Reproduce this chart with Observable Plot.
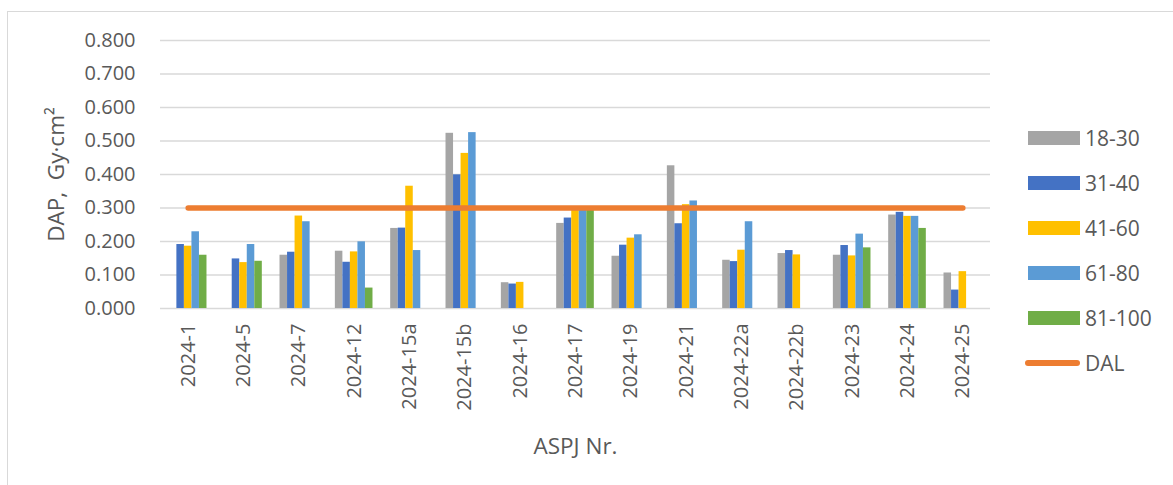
<!DOCTYPE html>
<html>
<head>
<meta charset="utf-8">
<script src="https://cdn.jsdelivr.net/npm/d3@7"></script>
<script src="https://cdn.jsdelivr.net/npm/@observablehq/plot@0.6"></script>
<style>
  html, body { margin: 0; padding: 0; background: #fff; }
  #wrap { position: relative; width: 1173px; height: 485px; overflow: hidden; font-family: "Open Sans", sans-serif; }
  #frame { position: absolute; left: 7px; top: 11px; width: 1200px; height: 500px; border-left: 1.5px solid #D9D9D9; border-top: 1.5px solid #D9D9D9; pointer-events: none; }
  #legend { position: absolute; left: 1025px; top: 115px; color: #595959; font-size: 21px; }
  .item { display: flex; align-items: center; height: 45px; }
  .sw { width: 52px; height: 14px; margin-right: 5px; margin-left: 3px; }
  .ln { width: 55px; height: 6px; border-radius: 3px; margin-right: 5px; }
  g[aria-label="x-axis label"] text, g[aria-label="y-axis label"] text { font-size: 22.5px; }
</style>
</head>
<body>
<div id="wrap"><div id="chart"></div><div id="frame"></div><div id="legend"></div></div>
<script>
const categories = ["2024-1","2024-5","2024-7","2024-12","2024-15a","2024-15b","2024-16","2024-17","2024-19","2024-21","2024-22a","2024-22b","2024-23","2024-24","2024-25"];
const seriesNames = ["18-30","31-40","41-60","61-80","81-100"];
const seriesColors = ["#A5A5A5","#4472C4","#FFC000","#5B9BD5","#70AD47"];
const v18_30  = [null, null, 0.159, 0.171, 0.239, 0.523, 0.077, 0.254, 0.156, 0.426, 0.144, 0.164, 0.159, 0.279, 0.106];
const v31_40  = [0.191, 0.148, 0.168, 0.138, 0.240, 0.399, 0.073, 0.270, 0.189, 0.253, 0.140, 0.173, 0.188, 0.287, 0.055];
const v41_60  = [0.186, 0.137, 0.276, 0.169, 0.365, 0.463, 0.078, 0.298, 0.210, 0.310, 0.174, 0.160, 0.157, 0.275, 0.110];
const v61_80  = [0.229, 0.191, 0.259, 0.199, 0.173, 0.525, null, 0.297, 0.220, 0.321, 0.259, null, 0.222, 0.275, null];
const v81_100 = [0.159, 0.141, null, 0.061, null, null, null, 0.296, null, null, null, null, 0.181, 0.239, null];
const dal     = [0.300, 0.300, 0.300, 0.300, 0.300, 0.300, 0.300, 0.300, 0.300, 0.300, 0.300, 0.300, 0.300, 0.300, 0.300];
const yTicks  = [0, 0.1, 0.2, 0.3, 0.4, 0.5, 0.6, 0.7, 0.8];

const seriesValues = [v18_30, v31_40, v41_60, v61_80, v81_100];
const rows = [];
seriesValues.forEach((vals, j) => vals.forEach((v, i) => {
  if (v != null) rows.push({i, j, series: seriesNames[j], v});
}));
const dalRows = dal.map((v, i) => ({i, v}));

const bw = 0.136;           // width of one bar in category units
const groupHalf = bw * seriesNames.length / 2;

const chart = Plot.plot({
  width: 1173,
  height: 485,
  marginLeft: 160,
  marginRight: 183,
  marginTop: 40,
  marginBottom: 177,
  style: { fontFamily: "Open Sans, sans-serif", fontSize: "20px", color: "#595959", background: "transparent" },
  x: { type: "linear", domain: [-0.5, categories.length - 0.5] },
  y: { domain: [0, 0.8] },
  color: { domain: seriesNames, range: seriesColors },
  marks: [
    Plot.gridY(yTicks, { stroke: "#D9D9D9", strokeOpacity: 1, strokeWidth: 1.5 }),
    Plot.rectY(rows, {
      x1: d => d.i - groupHalf + d.j * bw,
      x2: d => d.i - groupHalf + (d.j + 1) * bw,
      y: "v",
      fill: "series"
    }),
    Plot.lineY(dalRows, { x: "i", y: "v", stroke: "#ED7D31", strokeWidth: 5.5, strokeLinecap: "round" }),
    Plot.axisY(yTicks, {
      tickSize: 0, tickPadding: 25, tickFormat: d3.format(".3f"),
      label: "DAP,\u00a0 Gy\u00b7cm\u00b2", labelAnchor: "center", labelOffset: 112, labelArrow: "none"
    }),
    Plot.axisX(categories.map((c, i) => i), {
      tickSize: 0, tickPadding: 15, tickRotate: -90, tickFormat: i => categories[i],
      label: "ASPJ Nr.", labelAnchor: "center", labelOffset: 145, labelArrow: "none"
    })
  ]
});
document.getElementById("chart").appendChild(chart);

const legend = document.getElementById("legend");
seriesNames.forEach((name, j) => {
  const it = document.createElement("div");
  it.className = "item";
  it.innerHTML = `<div class="sw" style="background:${seriesColors[j]}"></div><span>${name}</span>`;
  legend.appendChild(it);
});
const dl = document.createElement("div");
dl.className = "item";
dl.innerHTML = `<div class="ln" style="background:#ED7D31"></div><span>DAL</span>`;
legend.appendChild(dl);
</script>
</body>
</html>
